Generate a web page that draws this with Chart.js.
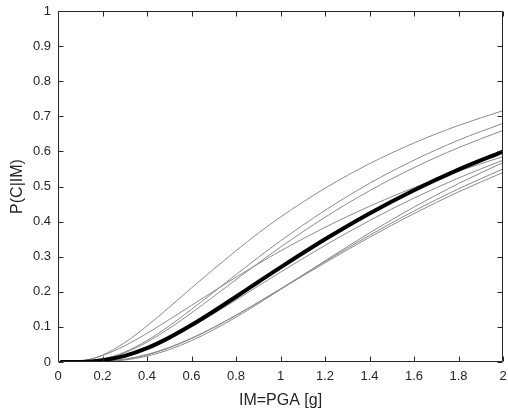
<!DOCTYPE html>
<html>
<head>
<meta charset="utf-8">
<script src="https://cdn.jsdelivr.net/npm/chart.js@4.4.1/dist/chart.umd.min.js"></script>
<style>
  html, body { margin: 0; padding: 0; background: #fff; }
  #wrap { width: 508px; height: 416px; }
</style>
</head>
<body>
<div id="wrap"><canvas id="fragility" width="508" height="416"></canvas></div>
<script>
const imValues = [0.01, 0.1, 0.2, 0.3, 0.4, 0.5, 0.6, 0.7, 0.8, 0.9, 1.0, 1.2, 1.4, 1.6, 1.8, 2.0];

// mean fragility curve (thick black)
const meanCurve = [0, 0.0003, 0.005, 0.0175, 0.0393, 0.0694, 0.1052, 0.1447, 0.186, 0.228, 0.2697, 0.3498, 0.4234, 0.4895, 0.5482, 0.5997];

// individual curves (thin grey)
const curveA = [0, 0.0022, 0.0198, 0.0554, 0.1027, 0.156, 0.211, 0.265, 0.317, 0.367, 0.413, 0.495, 0.565, 0.624, 0.674, 0.716];
const curveB = [0, 0.0005, 0.008, 0.0285, 0.0613, 0.103, 0.150, 0.199, 0.249, 0.298, 0.345, 0.432, 0.509, 0.575, 0.632, 0.680];
const curveC = [0, 0.0005, 0.0073, 0.0262, 0.0567, 0.0957, 0.140, 0.187, 0.2346, 0.2817, 0.3273, 0.4124, 0.4879, 0.5537, 0.6107, 0.6597];
const curveD = [0, 0.0027, 0.0184, 0.0463, 0.0816, 0.1208, 0.1614, 0.2019, 0.2416, 0.2798, 0.3163, 0.3837, 0.4437, 0.4968, 0.5437, 0.5852];
const curveE = [0, 0.0003, 0.0044, 0.0168, 0.0381, 0.0666, 0.1005, 0.1376, 0.1767, 0.2164, 0.2559, 0.3322, 0.403, 0.467, 0.5242, 0.575];
const curveF = [0, 0, 0.0009, 0.0056, 0.0167, 0.0352, 0.0608, 0.0921, 0.1277, 0.1662, 0.2065, 0.2884, 0.3677, 0.4415, 0.5084, 0.5681];
const curveG = [0, 0, 0.0014, 0.0074, 0.0202, 0.0403, 0.0667, 0.098, 0.133, 0.1702, 0.2087, 0.2862, 0.3609, 0.4303, 0.4934, 0.55];
const curveH = [0, 0.0001, 0.0016, 0.008, 0.0213, 0.0416, 0.0679, 0.0989, 0.1332, 0.1696, 0.2072, 0.2826, 0.3553, 0.4229, 0.4846, 0.540];

const greyCurves = [curveA, curveB, curveC, curveD, curveE, curveF, curveG, curveH];

const xTickValues = [0, 0.2, 0.4, 0.6, 0.8, 1, 1.2, 1.4, 1.6, 1.8, 2];
const xTickLabels = ['0', '0.2', '0.4', '0.6', '0.8', '1', '1.2', '1.4', '1.6', '1.8', '2'];
const yTickValues = [0, 0.1, 0.2, 0.3, 0.4, 0.5, 0.6, 0.7, 0.8, 0.9, 1];
const yTickLabels = ['0', '0.1', '0.2', '0.3', '0.4', '0.5', '0.6', '0.7', '0.8', '0.9', '1'];

const axisColor = '#262626';
const fontFamily = 'Arial, "Liberation Sans", Helvetica, sans-serif';

const toPoints = ys => ys.map((y, i) => ({ x: imValues[i], y: y }));

const labelFor = (values, labels) => (value) => {
  const idx = values.findIndex(v => Math.abs(v - value) < 1e-6);
  return idx >= 0 ? labels[idx] : '';
};

// MATLAB style box with inward ticks on all four sides
const boxPlugin = {
  id: 'matlabBox',
  afterDraw(chart) {
    const { ctx, chartArea: a, scales } = chart;
    const L = Math.round(a.left) + 0.5, R = Math.round(a.right) - 0.5;
    const T = Math.round(a.top) + 0.5, B = Math.round(a.bottom) - 0.5;
    const tickLen = 5;
    ctx.save();
    ctx.strokeStyle = axisColor;
    ctx.lineWidth = 1;
    ctx.beginPath();
    ctx.rect(L, T, R - L, B - T);
    xTickValues.forEach(v => {
      const px = Math.round(scales.x.getPixelForValue(v)) + 0.5;
      ctx.moveTo(px, B); ctx.lineTo(px, B - tickLen);
      ctx.moveTo(px, T); ctx.lineTo(px, T + tickLen);
    });
    yTickValues.forEach(v => {
      const py = Math.round(scales.y.getPixelForValue(v)) + 0.5;
      ctx.moveTo(L, py); ctx.lineTo(L + tickLen, py);
      ctx.moveTo(R, py); ctx.lineTo(R - tickLen, py);
    });
    ctx.stroke();
    ctx.restore();
  }
};

const datasets = [{
  label: 'mean',
  data: toPoints(meanCurve),
  borderColor: '#000000',
  borderWidth: 4,
  pointRadius: 0,
  cubicInterpolationMode: 'monotone',
  fill: false
}];
greyCurves.forEach((c, i) => {
  datasets.push({
    label: 'curve ' + (i + 1),
    data: toPoints(c),
    borderColor: '#8a8a8a',
    borderWidth: 1,
    pointRadius: 0,
    cubicInterpolationMode: 'monotone',
    fill: false
  });
});

new Chart(document.getElementById('fragility'), {
  type: 'line',
  data: { datasets: datasets },
  plugins: [boxPlugin],
  options: {
    responsive: false,
    animation: false,
    events: [],
    layout: { padding: { top: 11, right: 5, left: 0, bottom: 0 } },
    plugins: { legend: { display: false }, tooltip: { enabled: false } },
    scales: {
      x: {
        type: 'linear',
        min: 0,
        max: 2,
        afterFit: (scale) => {
          scale.height = 54;
          scale.paddingLeft = 0;
          scale.paddingRight = 0;
        },
        afterBuildTicks: (scale) => { scale.ticks = xTickValues.map(v => ({ value: v })); },
        grid: { display: false, drawTicks: false },
        border: { display: false },
        ticks: {
          padding: 7,
          color: axisColor,
          font: { family: fontFamily, size: 13 },
          maxRotation: 0,
          autoSkip: false,
          callback: labelFor(xTickValues, xTickLabels)
        },
        title: {
          display: true,
          text: 'IM=PGA [g]',
          color: axisColor,
          font: { family: fontFamily, size: 16 },
          padding: { top: 0, bottom: 6 }
        }
      },
      y: {
        type: 'linear',
        min: 0,
        max: 1,
        afterFit: (scale) => {
          scale.width = 58;
          scale.paddingTop = 0;
          scale.paddingBottom = 0;
        },
        afterBuildTicks: (scale) => { scale.ticks = yTickValues.map(v => ({ value: v })); },
        grid: { display: false, drawTicks: false },
        border: { display: false },
        ticks: {
          padding: 7,
          color: axisColor,
          font: { family: fontFamily, size: 13 },
          autoSkip: false,
          callback: labelFor(yTickValues, yTickLabels)
        },
        title: {
          display: true,
          text: 'P(C|IM)',
          color: axisColor,
          font: { family: fontFamily, size: 16 },
          padding: { top: 8, bottom: 0 }
        }
      }
    }
  }
});
</script>
</body>
</html>
